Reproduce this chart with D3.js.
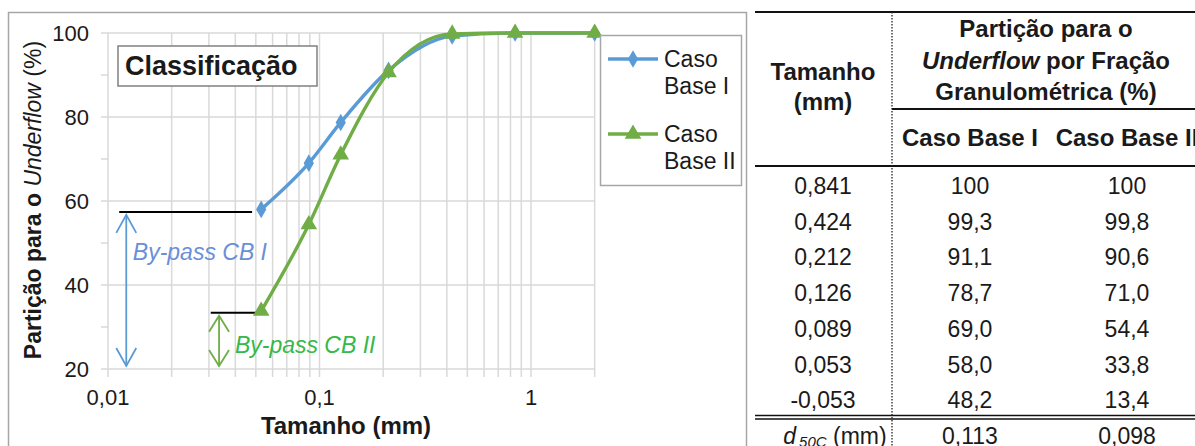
<!DOCTYPE html>
<meta charset="utf-8">
<style>

body {
  margin: 0;
  background: #fff;
}

text {
  font-family: "Liberation Sans", Arial, sans-serif;
  fill: #1a1a1a;
}

.grid {
  stroke: #d9d9d9;
  stroke-width: 1.5;
}

</style>
<body>
<script src="https://cdn.jsdelivr.net/npm/d3@7"></script>
<script>

// chart points (mm, % to underflow)
var sizes = [0.053, 0.089, 0.126, 0.212, 0.424, 0.841, 2.0];
var caseBase1 = [58.0, 69.0, 78.7, 91.1, 99.3, 100, 100];
var caseBase2 = [33.8, 54.4, 71.0, 90.6, 99.8, 100, 100];
var seriesNames = [["Caso", "Base I"], ["Caso", "Base II"]];

var xTicks = [0.01, 0.1, 1];
var xTickLabels = ["0,01", "0,1", "1"];
var yTicks = [20, 40, 60, 80, 100];
var yMinorTicks = [30, 50, 70, 90];

// by-pass annotations: where the arrow sits and where the bar starts/ends
var bypassLabels = ["By-pass CB I", "By-pass CB II"];
var bypassArrowX = [0.0122, 0.0335];
var bypassBarFrom = [0.0113, 0.0306];
var bypassBarTo = [0.048, 0.051];
var bypassLevel = [57.4, 33.4];
var bypassLabelX = [0.0131, 0.0398];
var bypassLabelY = [46.0, 23.8];

// table
var tableSizes = ["0,841", "0,424", "0,212", "0,126", "0,089", "0,053", "-0,053"];
var tableCB1 = ["100", "99,3", "91,1", "78,7", "69,0", "58,0", "48,2"];
var tableCB2 = ["100", "99,8", "90,6", "71,0", "54,4", "33,8", "13,4"];
var d50 = ["0,113", "0,098"];

var blue = "#5b9bd5",
    green = "#70ad47";

var width = 1195,
    height = 446;

var svg = d3.select("body").append("svg")
    .attr("width", width)
    .attr("height", height);

// chart frame
svg.append("rect")
    .attr("x", 8.5)
    .attr("y", 12.5)
    .attr("width", 738)
    .attr("height", 460)
    .attr("fill", "#fff")
    .attr("stroke", "#a6a6a6")
    .attr("stroke-width", 1.5);

var x = d3.scaleLog()
    .domain([0.01, 2])
    .range([108, 108 + Math.log10(200) * 211.5]);

var y = d3.scaleLinear()
    .domain([20, 100])
    .range([369, 33]);

var g = svg.append("g");

// vertical grid, one line per log tick, running a bit below the axis
var logTicks = x.ticks().filter(function(d) { return d <= 2; });
g.selectAll(".vgrid")
    .data(logTicks)
  .enter().append("line")
    .attr("class", "grid")
    .attr("x1", function(d) { return x(d); })
    .attr("x2", function(d) { return x(d); })
    .attr("y1", y(100))
    .attr("y2", y(20) + 8);

g.selectAll(".hgrid")
    .data(yTicks)
  .enter().append("line")
    .attr("class", "grid")
    .attr("x1", x(0.01) - 7)
    .attr("x2", x(2))
    .attr("y1", function(d) { return y(d); })
    .attr("y2", function(d) { return y(d); });

g.selectAll(".hminor")
    .data(yMinorTicks)
  .enter().append("line")
    .attr("class", "grid")
    .attr("x1", x(0.01) - 7)
    .attr("x2", x(0.01))
    .attr("y1", function(d) { return y(d); })
    .attr("y2", function(d) { return y(d); });

// tick labels
g.selectAll(".ylab")
    .data(yTicks)
  .enter().append("text")
    .attr("x", 89)
    .attr("y", function(d) { return y(d) + 8; })
    .attr("text-anchor", "end")
    .style("font-size", "22px")
    .text(function(d) { return d; });

g.selectAll(".xlab")
    .data(xTicks)
  .enter().append("text")
    .attr("x", function(d) { return x(d); })
    .attr("y", 405)
    .attr("text-anchor", "middle")
    .style("font-size", "22px")
    .text(function(d, i) { return xTickLabels[i]; });

// axis titles
g.append("text")
    .attr("x", 346)
    .attr("y", 434)
    .attr("text-anchor", "middle")
    .style("font-size", "24px")
    .style("font-weight", "bold")
    .text("Tamanho (mm)");

var yt = g.append("text")
    .attr("transform", "translate(41,200) rotate(-90)")
    .attr("text-anchor", "middle")
    .style("font-size", "23px")
    .style("font-weight", "bold");
yt.append("tspan").text("Partição para o ");
yt.append("tspan").style("font-style", "italic").style("font-weight", "normal").text("Underflow");
yt.append("tspan").style("font-weight", "normal").text(" (%)");

// by-pass bars, arrows and labels
var seriesColors = [blue, green];
var bypassText = ["#6a8fd8", "#36b84a"];

bypassLevel.forEach(function(lev, i) {
  g.append("line")
      .attr("x1", x(bypassBarFrom[i]))
      .attr("x2", x(bypassBarTo[i]))
      .attr("y1", y(lev))
      .attr("y2", y(lev))
      .attr("stroke", "#000")
      .attr("stroke-width", 2);

  var ax = x(bypassArrowX[i]),
      top = y(lev) + 3,
      bot = y(20) - 3,
      head = i === 0 ? 18 : 16,
      c = seriesColors[i];

  g.append("line")
      .attr("x1", ax).attr("x2", ax)
      .attr("y1", top).attr("y2", bot)
      .attr("stroke", c)
      .attr("stroke-width", 1.8);

  g.append("path")
      .attr("d", "M" + (ax - 10) + "," + (top + head) + "L" + ax + "," + top + "L" + (ax + 10) + "," + (top + head) +
                 "M" + (ax - 10) + "," + (bot - head) + "L" + ax + "," + bot + "L" + (ax + 10) + "," + (bot - head))
      .attr("fill", "none")
      .attr("stroke", c)
      .attr("stroke-width", 1.8);

  g.append("text")
      .attr("x", x(bypassLabelX[i]))
      .attr("y", y(bypassLabelY[i]))
      .style("font-size", "23px")
      .style("font-style", "italic")
      .style("fill", bypassText[i])
      .text(bypassLabels[i]);
});

// series
var line = d3.line()
    .x(function(d) { return x(d[0]); })
    .y(function(d) { return y(d[1]); })
    .curve(d3.curveMonotoneX);

var series = [caseBase1, caseBase2].map(function(vals) {
  return vals.map(function(v, i) { return [sizes[i], v]; });
});

var diamond = d3.symbol().type(d3.symbolDiamond).size(90),
    triangle = d3.symbol().type(d3.symbolTriangle).size(120);

series.forEach(function(pts, i) {
  g.append("path")
      .attr("d", line(pts))
      .attr("fill", "none")
      .attr("stroke", seriesColors[i])
      .attr("stroke-width", 3.4);

  g.selectAll(".m" + i)
      .data(pts)
    .enter().append("path")
      .attr("transform", function(d) { return "translate(" + x(d[0]) + "," + y(d[1]) + ")"; })
      .attr("d", i === 0 ? diamond : triangle)
      .attr("fill", seriesColors[i]);
});

// title box
g.append("rect")
    .attr("x", 118)
    .attr("y", 46)
    .attr("width", 199)
    .attr("height", 40)
    .attr("fill", "#fff")
    .attr("stroke", "#808080")
    .attr("stroke-width", 1.5);

g.append("text")
    .attr("x", 125)
    .attr("y", 75)
    .style("font-size", "27px")
    .style("font-weight", "bold")
    .text("Classificação");

// legend
var legend = g.append("g");
legend.append("rect")
    .attr("x", 600.5)
    .attr("y", 35.5)
    .attr("width", 141)
    .attr("height", 150)
    .attr("fill", "#fff")
    .attr("stroke", "#a6a6a6")
    .attr("stroke-width", 1.5);

var legendY = [59, 134];
seriesNames.forEach(function(name, i) {
  var ly = legendY[i];
  legend.append("line")
      .attr("x1", 608).attr("x2", 658)
      .attr("y1", ly).attr("y2", ly)
      .attr("stroke", seriesColors[i])
      .attr("stroke-width", 3.4);
  legend.append("path")
      .attr("transform", "translate(633," + ly + ")")
      .attr("d", i === 0 ? diamond : triangle)
      .attr("fill", seriesColors[i]);
  name.forEach(function(t, k) {
    legend.append("text")
        .attr("x", 664)
        .attr("y", ly + 8 + k * 27)
        .style("font-size", "23px")
        .text(t);
  });
});

// table
var t = svg.append("g");
var colX = [823, 970, 1127],
    rowY = d3.range(tableSizes.length).map(function(i) { return 194 + i * 35.7; });

function hline(x1, x2, yy, w) {
  t.append("line")
      .attr("x1", x1).attr("x2", x2)
      .attr("y1", yy).attr("y2", yy)
      .attr("stroke", "#111")
      .attr("stroke-width", w);
}

hline(755, width, 12, 2);
hline(892, width, 109, 2);
hline(755, width, 166, 2);
hline(755, width, 415.5, 1.3);
hline(755, width, 419, 1.3);

t.append("line")
    .attr("x1", 892).attr("x2", 892)
    .attr("y1", 12).attr("y2", height)
    .attr("stroke", "#222")
    .attr("stroke-width", 1.3)
    .attr("stroke-dasharray", "1.5,1.5");

function cell(xx, yy, txt, bold) {
  return t.append("text")
      .attr("x", xx)
      .attr("y", yy)
      .attr("text-anchor", "middle")
      .style("font-size", bold ? "24px" : "23px")
      .style("font-weight", bold ? "bold" : "normal")
      .text(txt);
}

cell(colX[0], 80, "Tamanho", true);
cell(colX[0], 110, "(mm)", true);
cell(1046, 37, "Partição para o", true);
var uf = cell(1046, 69, "", true);
uf.append("tspan").style("font-style", "italic").text("Underflow");
uf.append("tspan").text(" por Fração");
cell(1046, 100, "Granulométrica (%)", true);
cell(colX[1], 146, "Caso Base I", true);
cell(colX[2], 146, "Caso Base II", true);

tableSizes.forEach(function(s, i) {
  cell(colX[0], rowY[i], s, false);
  cell(colX[1], rowY[i], tableCB1[i], false);
  cell(colX[2], rowY[i], tableCB2[i], false);
});

var d = cell(colX[0] + 12, 444, "", false);
d.append("tspan").style("font-style", "italic").text("d");
d.append("tspan").style("font-style", "italic").style("font-size", "15px").attr("dy", 3).attr("dx", 3).text("50C");
d.append("tspan").attr("dy", -3).text(" (mm)");
cell(colX[1], 444, d50[0], false);
cell(colX[2], 444, d50[1], false);

</script>
